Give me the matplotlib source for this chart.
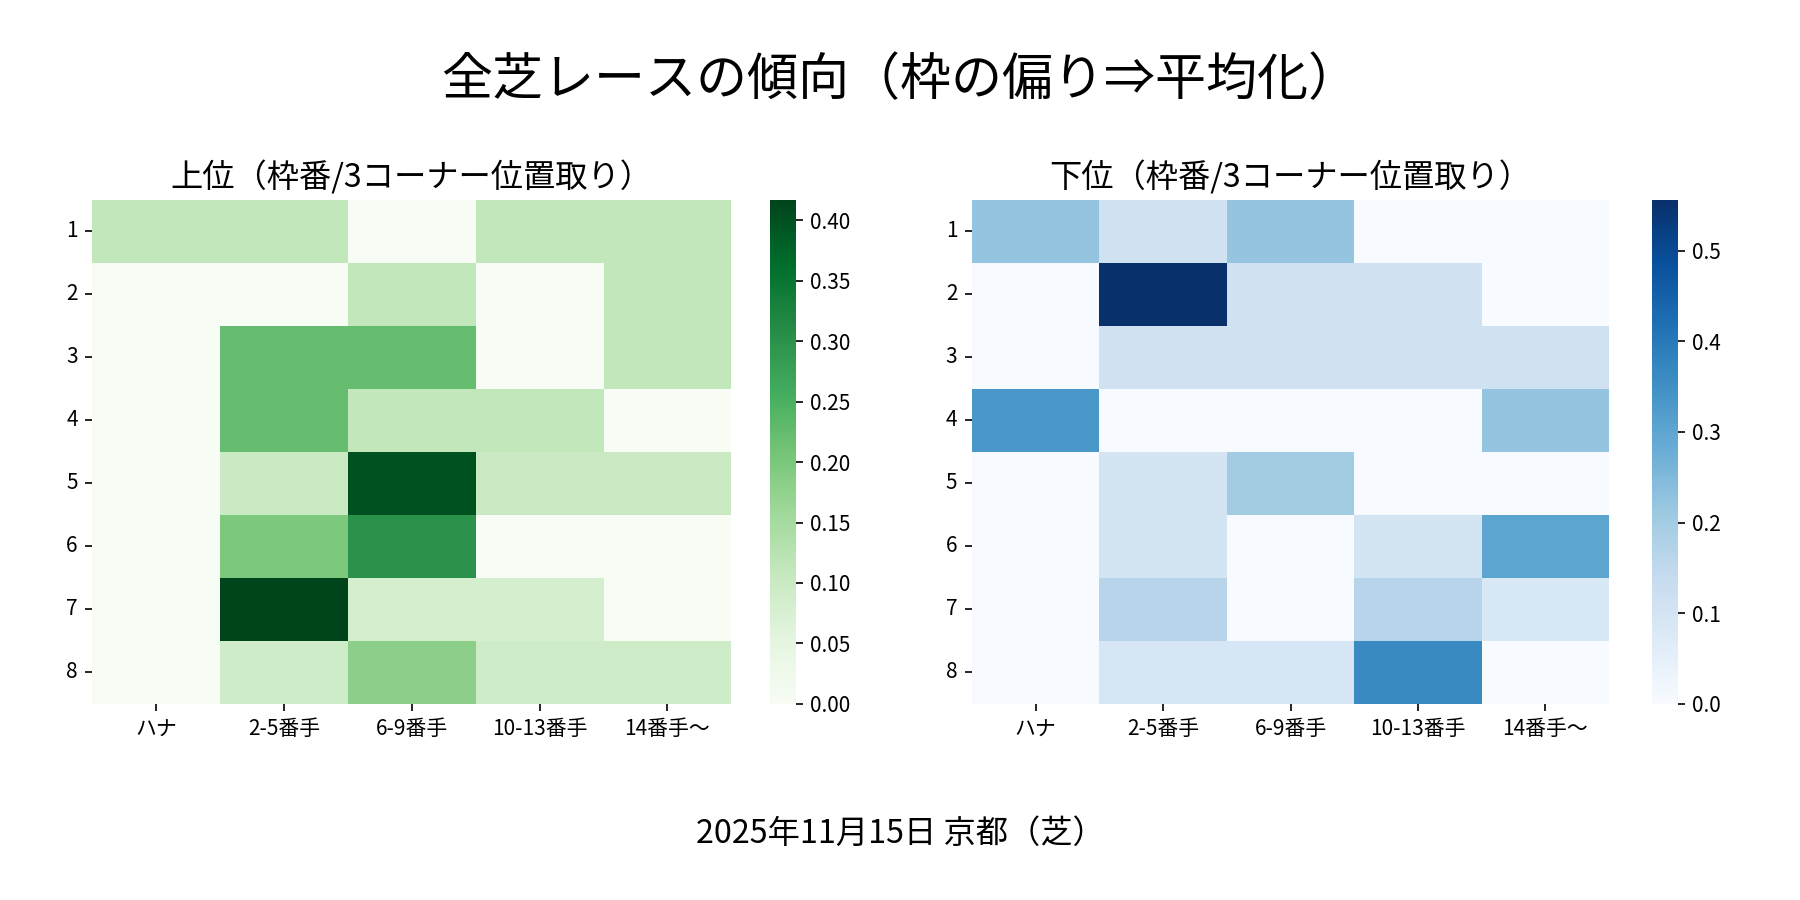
import matplotlib
matplotlib.use("Agg")
import matplotlib.pyplot as plt
import seaborn as sns
import pandas as pd

plt.rcParams['font.family'] = ['Noto Sans CJK JP', 'DejaVu Sans']

# 枠番 (rows) x 3コーナー位置取り (columns)
waku = [1, 2, 3, 4, 5, 6, 7, 8]
positions = ['ハナ', '2-5番手', '6-9番手', '10-13番手', '14番手〜']

upper = [
    [0.111, 0.111, 0.0,   0.111, 0.111],
    [0.0,   0.0,   0.111, 0.0,   0.111],
    [0.0,   0.222, 0.222, 0.0,   0.111],
    [0.0,   0.222, 0.111, 0.111, 0.0],
    [0.0,   0.1,   0.4,   0.1,   0.1],
    [0.0,   0.2,   0.3,   0.0,   0.0],
    [0.0,   0.417, 0.083, 0.083, 0.0],
    [0.0,   0.091, 0.182, 0.091, 0.091],
]

lower = [
    [0.222, 0.111, 0.222, 0.0,   0.0],
    [0.0,   0.556, 0.111, 0.111, 0.0],
    [0.0,   0.111, 0.111, 0.111, 0.111],
    [0.333, 0.0,   0.0,   0.0,   0.222],
    [0.0,   0.1,   0.2,   0.0,   0.0],
    [0.0,   0.1,   0.0,   0.1,   0.3],
    [0.0,   0.167, 0.0,   0.167, 0.083],
    [0.0,   0.091, 0.091, 0.364, 0.0],
]

df_up = pd.DataFrame(upper, index=waku, columns=positions)
df_low = pd.DataFrame(lower, index=waku, columns=positions)

fig = plt.figure(figsize=(12, 6), dpi=150)

ax1 = fig.add_axes([0.0513, 0.218, 0.355, 0.560])
cax1 = fig.add_axes([0.428, 0.218, 0.014, 0.560])
ax2 = fig.add_axes([0.540, 0.218, 0.354, 0.560])
cax2 = fig.add_axes([0.918, 0.218, 0.014, 0.560])

sns.heatmap(df_up, cmap='Greens', ax=ax1, cbar_ax=cax1)
sns.heatmap(df_low, cmap='Blues', ax=ax2, cbar_ax=cax2)

for ax, title in [(ax1, '上位（枠番/3コーナー位置取り）'), (ax2, '下位（枠番/3コーナー位置取り）')]:
    ax.set_title(title, fontsize=15.5)
    ax.set_xlabel('')
    ax.set_ylabel('')
    ax.tick_params(axis='y', rotation=0)
    ax.tick_params(axis='x', rotation=0)

fig.suptitle('全芝レースの傾向（枠の偏り⇒平均化）', fontsize=24.5, y=0.94)
fig.text(0.5, 0.074, '2025年11月15日 京都（芝）', ha='center', va='center', fontsize=15.5)

fig.savefig('out.png', dpi=150)
